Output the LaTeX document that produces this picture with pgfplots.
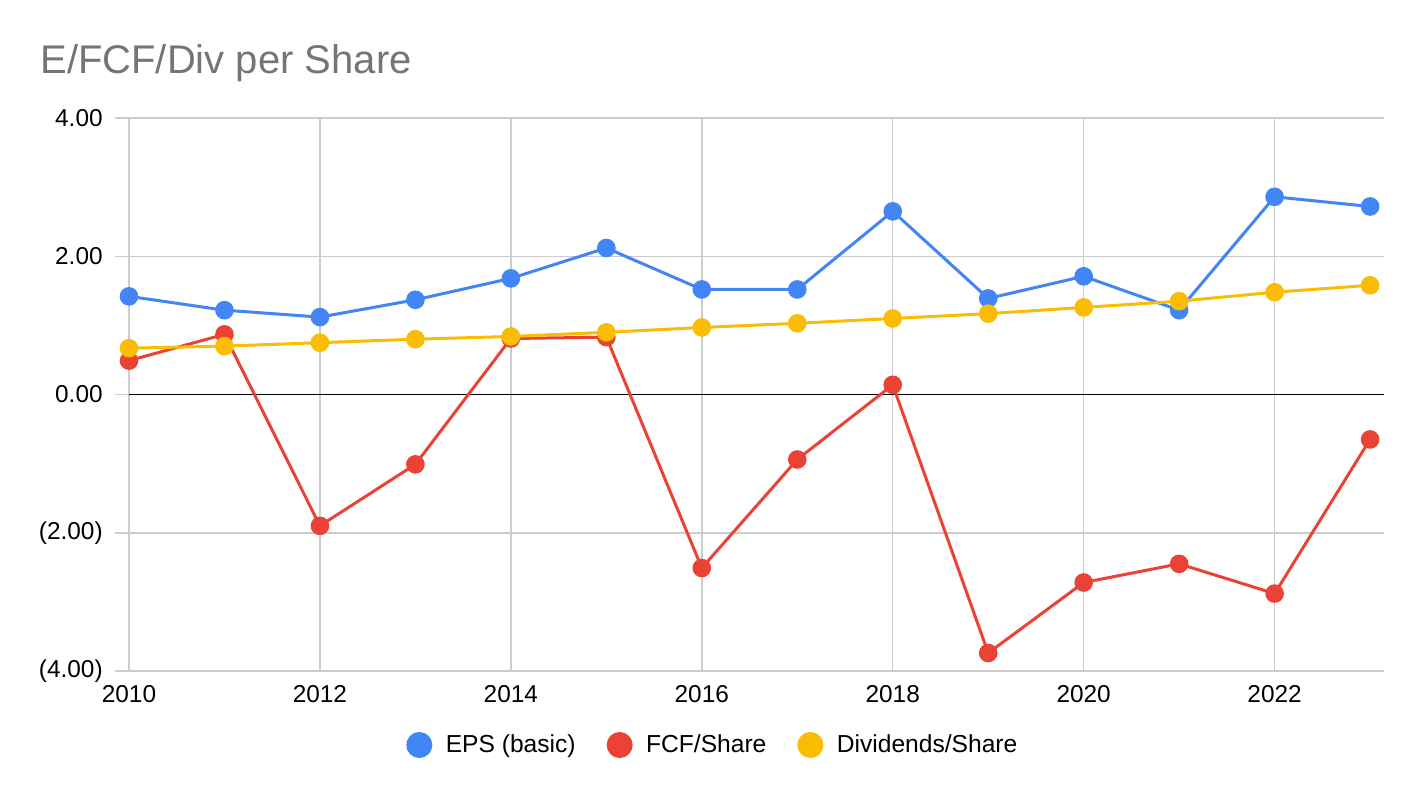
\documentclass[border=0pt]{standalone}
\usepackage{pgfplots}
\pgfplotsset{compat=1.18}
\usepackage{fontspec}
\setmainfont{Liberation Sans}
\definecolor{cblue}{HTML}{4285F4}
\definecolor{cred}{HTML}{EA4335}
\definecolor{cyel}{HTML}{FBBC04}
\definecolor{cgrid}{HTML}{CCCCCC}
\definecolor{ctitle}{HTML}{757575}
\begin{document}
\begin{tikzpicture}[x=1bp,y=1bp]
\useasboundingbox (0,0) rectangle (712,399);
\node[anchor=base west, font=\fontsize{20bp}{24bp}\selectfont, text=ctitle, inner sep=0] at (20,362.5) {E/FCF/Div per Share};
\begin{axis}[
  at={(64.5bp,63.5bp)}, anchor=south west,
  scale only axis, width=627.5bp, height=276.5bp,
  xmin=2010, xmax=2023.146, ymin=-4, ymax=4,
  xtick={2010,2012,...,2022}, ytick={-4,-2,0,2,4},
  yticklabels={(4.00),(2.00),0.00,2.00,4.00},
  grid=major, major grid style={cgrid, line width=0.75bp},
  axis line style={draw=none},
  tick align=outside, major tick length=7bp, tick pos=left,
  xtick style={draw=none}, ytick style={cgrid, line width=0.75bp},
  tick label style={font=\fontsize{12.2bp}{14bp}\selectfont, inner sep=0pt},
  /pgf/number format/assume math mode=true,
  xticklabel style={/pgf/number format/1000 sep={}, anchor=center, yshift=-4.5bp},
  yticklabel style={anchor=east, xshift=-6bp},
  legend columns=-1,
  legend style={at={(0.466,-0.1338)}, anchor=center, draw=none, fill=none,
    font=\fontsize{12.3bp}{14bp}\selectfont,
    /tikz/every odd column/.append style={column sep=4.75bp},
    /tikz/every even column/.append style={column sep=13.5bp}},
  legend image code/.code={\fill[#1] (0bp,0bp) circle (5.75bp);},
  clip=false,
]
\addplot[black, line width=0.75bp, forget plot] coordinates {(2010,0) (2023.146,0)};
\addplot[cblue, line width=1.5bp, mark=*, mark size=3.9bp] coordinates {
 (2010,1.42) (2011,1.22) (2012,1.12) (2013,1.37) (2014,1.68) (2015,2.12) (2016,1.52)
 (2017,1.52) (2018,2.65) (2019,1.39) (2020,1.71) (2021,1.22) (2022,2.86) (2023,2.72)};
\addlegendentry{EPS (basic)}
\addplot[cred, line width=1.5bp, mark=*, mark size=3.9bp] coordinates {
 (2010,0.49) (2011,0.87) (2012,-1.90) (2013,-1.01) (2014,0.81) (2015,0.83) (2016,-2.51)
 (2017,-0.94) (2018,0.14) (2019,-3.74) (2020,-2.72) (2021,-2.45) (2022,-2.88) (2023,-0.65)};
\addlegendentry{FCF/Share}
\addplot[cyel, line width=1.5bp, mark=*, mark size=3.9bp] coordinates {
 (2010,0.67) (2011,0.70) (2012,0.75) (2013,0.80) (2014,0.84) (2015,0.90) (2016,0.97)
 (2017,1.03) (2018,1.10) (2019,1.17) (2020,1.26) (2021,1.35) (2022,1.48) (2023,1.58)};
\addlegendentry{Dividends/Share}
\end{axis}
\end{tikzpicture}
\end{document}
